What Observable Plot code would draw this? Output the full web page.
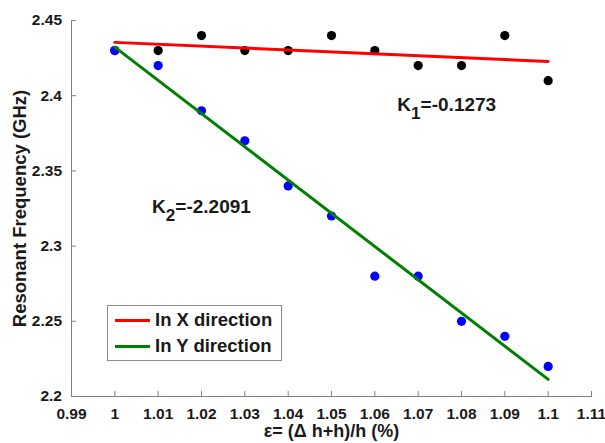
<!DOCTYPE html>
<html><head><meta charset="utf-8">
<script src="https://cdn.jsdelivr.net/npm/d3@7"></script>
<script src="https://cdn.jsdelivr.net/npm/@observablehq/plot@0.6"></script>
<style>
body{margin:0;background:#fff;}
#wrap{position:relative;width:605px;height:443px;font-family:"Liberation Sans",Arial,sans-serif;}
#wrap svg text{font-weight:bold;}
#legend{position:absolute;left:107px;top:305px;width:175px;height:56px;border:1px solid #8c8c8c;background:#fff;box-sizing:border-box;font-weight:bold;font-size:18.5px;color:#1a1a1a}
.sw{position:absolute;left:7px;width:35px;height:3px}
.lab{position:absolute;left:47px;line-height:20px;white-space:nowrap}
</style></head><body><div id="wrap"></div>
<script>
// Data
const strain = [1.00, 1.01, 1.02, 1.03, 1.04, 1.05, 1.06, 1.07, 1.08, 1.09, 1.10];
const freqX  = [2.43, 2.43, 2.44, 2.43, 2.43, 2.44, 2.43, 2.42, 2.42, 2.44, 2.41];
const freqY  = [2.43, 2.42, 2.39, 2.37, 2.34, 2.32, 2.28, 2.28, 2.25, 2.24, 2.22];
const xTicks = [0.99, 1, 1.01, 1.02, 1.03, 1.04, 1.05, 1.06, 1.07, 1.08, 1.09, 1.1, 1.11];
const yTicks = [2.2, 2.25, 2.3, 2.35, 2.4, 2.45];
const seriesNames = ["In X direction", "In Y direction"];
const lineColors = ["#ff0000", "#008000"];
const dotColors = ["#000000", "#0000ff"];
const slopeLabels = [
  {x: 1.0652, y: 2.3895, text: "K1=-0.1273"},
  {x: 1.0086, y: 2.3217, text: "K2=-2.2091"}
];
const xLabel = "ε= (Δ h+h)/h (%)";
const yLabel = "Resonant Frequency (GHz)";

const dataX = strain.map((s, i) => ({x: s, y: freqX[i]}));
const dataY = strain.map((s, i) => ({x: s, y: freqY[i]}));
const fmt = d => String(+d.toFixed(2));
const axisColor = "#808080";
const textColor = "#1a1a1a";

const chart = Plot.plot({
  width: 605, height: 443,
  marginLeft: 71, marginRight: 14, marginTop: 20, marginBottom: 47,
  style: {fontFamily: "'Liberation Sans', Arial, sans-serif", background: "#fff"},
  x: {domain: [0.99, 1.11]},
  y: {domain: [2.2, 2.45]},
  marks: [
    Plot.frame({anchor: "left", stroke: axisColor}),
    Plot.frame({anchor: "bottom", stroke: axisColor}),
    Plot.axisX(xTicks, {tickSize: -5, tickPadding: 16, tickFormat: fmt, fontSize: 15.5, fontWeight: "bold", fill: textColor, stroke: axisColor, label: null}),
    Plot.axisY(yTicks, {tickSize: -5, tickPadding: 14.5, tickFormat: fmt, fontSize: 15.5, fontWeight: "bold", fill: textColor, stroke: axisColor, label: null}),
    Plot.text([xLabel], {frameAnchor: "bottom", textAnchor: "middle", lineAnchor: "bottom", dy: 40, fontSize: 18, fontWeight: "bold", fill: textColor}),
    Plot.text([yLabel], {frameAnchor: "left", textAnchor: "middle", lineAnchor: "bottom", rotate: -90, dx: -46, fontSize: 18.5, fontWeight: "bold", fill: textColor}),
    Plot.dot(dataX, {x: "x", y: "y", r: 4.6, fill: dotColors[0], stroke: null}),
    Plot.dot(dataY, {x: "x", y: "y", r: 4.6, fill: dotColors[1], stroke: null}),
    Plot.linearRegressionY(dataX, {x: "x", y: "y", stroke: lineColors[0], strokeWidth: 3, ci: 0}),
    Plot.linearRegressionY(dataY, {x: "x", y: "y", stroke: lineColors[1], strokeWidth: 3, ci: 0}),
    Plot.text(slopeLabels, {x: "x", y: "y", text: "text", textAnchor: "start", lineAnchor: "bottom", fontSize: 19, fontWeight: "bold", fill: textColor})
  ]
});

// subscripts on K labels
chart.querySelectorAll("text").forEach(t => {
  const m = /^K(\d)(=.*)$/.exec(t.textContent);
  if (!m || t.children.length > 1) return;
  const sel = d3.select(t);
  sel.text(null);
  sel.append("tspan").text("K");
  sel.append("tspan").attr("dy", "0.42em").attr("font-size", "0.9em").text(m[1]);
  sel.append("tspan").attr("dy", "-0.42em").text(m[2]);
});

const wrap = document.getElementById("wrap");
wrap.appendChild(chart);

// legend
const legend = document.createElement("div");
legend.id = "legend";
seriesNames.forEach((name, i) => {
  const cy = 14 + i * 26;
  const sw = document.createElement("div");
  sw.className = "sw";
  sw.style.top = (cy - 1.5) + "px";
  sw.style.background = lineColors[i];
  const lab = document.createElement("div");
  lab.className = "lab";
  lab.style.top = (cy - 10) + "px";
  lab.textContent = name;
  legend.appendChild(sw);
  legend.appendChild(lab);
});
wrap.appendChild(legend);
</script></body></html>
